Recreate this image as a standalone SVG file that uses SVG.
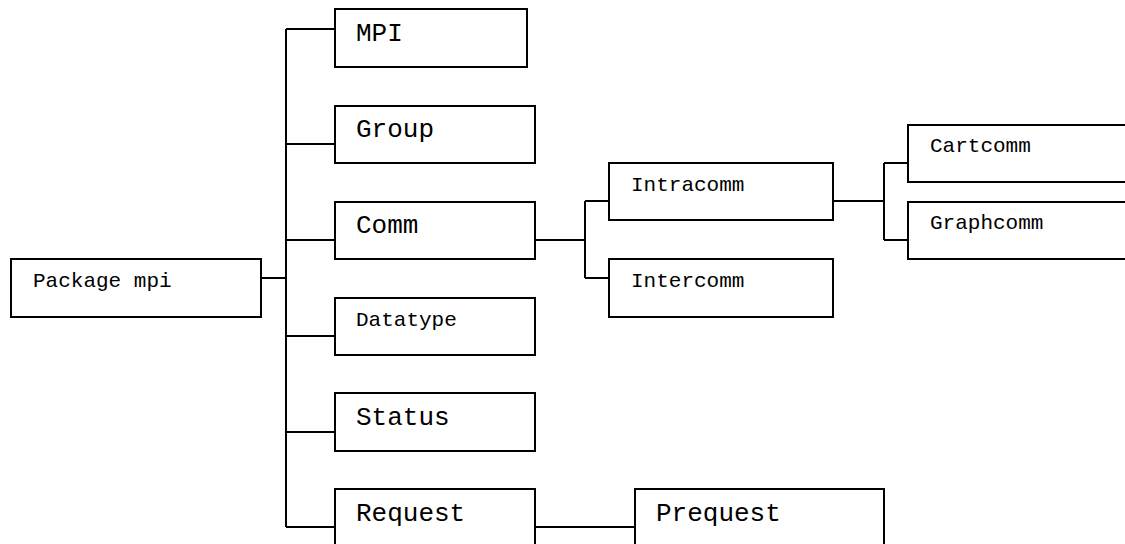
<svg xmlns="http://www.w3.org/2000/svg" width="1125" height="544" viewBox="0 0 1125 544">
<style>
.box{fill:#fff;stroke:#000;stroke-width:2}
.ln{fill:none;stroke:#000;stroke-width:2}
.big{font-family:"Liberation Mono","Courier New",monospace;font-size:26px;fill:#000}
.sm{font-family:"Liberation Mono","Courier New",monospace;font-size:21px;fill:#000}
</style>
<rect width="1125" height="544" fill="#fff"/>
<g id="connectors">
<path class="ln" d="M261 278H286M286 29V527M286 29H335M286 144H335M286 240H335M286 336H335M286 432H335M286 527H335"/>
<path class="ln" d="M535 240H585M585 201V278M585 201H609M585 278H609"/>
<path class="ln" d="M833 201H884M884 163V240M884 163H908M884 240H908"/>
<path class="ln" d="M535 527H635"/>
</g>
<g id="n-package"><rect class="box" x="11" y="259" width="250" height="58"/><text class="sm" x="33" y="287">Package mpi</text></g>
<g id="n-mpi"><rect class="box" x="335" y="9" width="192" height="58"/><text class="big" x="356" y="41">MPI</text></g>
<g id="n-group"><rect class="box" x="335" y="106" width="200" height="57"/><text class="big" x="356" y="137">Group</text></g>
<g id="n-comm"><rect class="box" x="335" y="202" width="200" height="57"/><text class="big" x="356" y="233">Comm</text></g>
<g id="n-datatype"><rect class="box" x="335" y="298" width="200" height="57"/><text class="sm" x="356" y="326">Datatype</text></g>
<g id="n-status"><rect class="box" x="335" y="393" width="200" height="58"/><text class="big" x="356" y="425">Status</text></g>
<g id="n-request"><rect class="box" x="335" y="489" width="200" height="70"/><text class="big" x="356" y="521">Request</text></g>
<g id="n-prequest"><rect class="box" x="635" y="489" width="249" height="70"/><text class="big" x="656" y="521">Prequest</text></g>
<g id="n-intracomm"><rect class="box" x="609" y="163" width="224" height="57"/><text class="sm" x="631" y="191">Intracomm</text></g>
<g id="n-intercomm"><rect class="box" x="609" y="259" width="224" height="58"/><text class="sm" x="631" y="287">Intercomm</text></g>
<g id="n-cartcomm"><rect class="box" x="908" y="125" width="230" height="57"/><text class="sm" x="930" y="152">Cartcomm</text></g>
<g id="n-graphcomm"><rect class="box" x="908" y="202" width="230" height="57"/><text class="sm" x="930" y="229">Graphcomm</text></g>
</svg>
